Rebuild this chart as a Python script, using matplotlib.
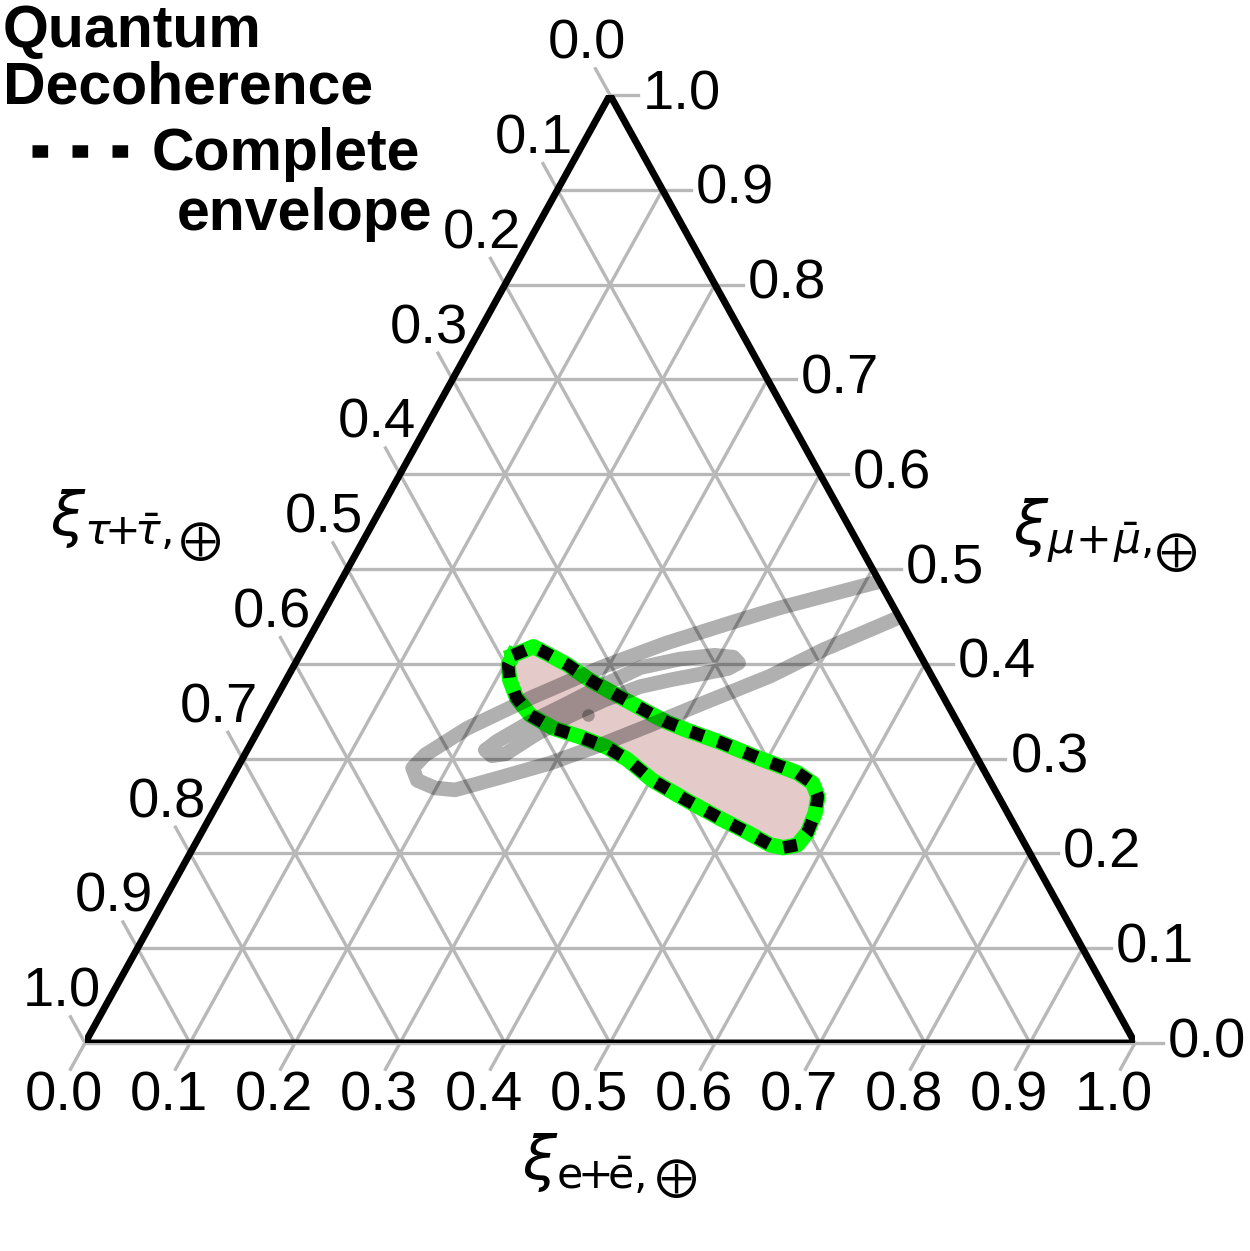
"""Ternary flavour-composition plot with the quantum decoherence envelope."""

import matplotlib

matplotlib.use("Agg")
import matplotlib.pyplot as plt
import numpy as np
from matplotlib.lines import Line2D
from matplotlib.patches import Polygon

plt.rcParams["font.family"] = ["Liberation Sans", "DejaVu Sans"]
plt.rcParams["mathtext.fontset"] = "dejavusans"

# complete envelope (fraction of e and mu; tau = 1 - e - mu)
envelope_e = [0.203, 0.218, 0.234, 0.260, 0.289, 0.327, 0.368, 0.386, 0.408,
              0.447, 0.490, 0.536, 0.556, 0.568, 0.574, 0.577, 0.574, 0.562,
              0.548, 0.520, 0.486, 0.445, 0.402, 0.367, 0.341, 0.310, 0.280,
              0.251, 0.229, 0.213, 0.2035, 0.203]
envelope_mu = [0.409, 0.418, 0.411, 0.399, 0.383, 0.365, 0.346, 0.338, 0.330,
               0.317, 0.301, 0.285, 0.274, 0.260, 0.243, 0.222, 0.209, 0.206,
               0.209, 0.222, 0.237, 0.256, 0.277, 0.299, 0.312, 0.323, 0.332,
               0.346, 0.364, 0.383, 0.399, 0.409]

best_fit_e = [0.306]
best_fit_mu = [0.346]

# gray reference contours
outer_loop_e = [0.551, 0.508, 0.432, 0.395, 0.343, 0.293, 0.244, 0.198, 0.172,
                0.167, 0.178, 0.199, 0.219, 0.255, 0.295, 0.333, 0.370, 0.407,
                0.459, 0.496, 0.546, 0.573]
outer_loop_mu = [0.498, 0.485, 0.459, 0.444, 0.422, 0.396, 0.365, 0.332, 0.304,
                 0.290, 0.277, 0.269, 0.267, 0.280, 0.295, 0.314, 0.335, 0.357,
                 0.387, 0.415, 0.446, 0.463]

inner_loop_e = [0.227, 0.233, 0.255, 0.279, 0.303, 0.331, 0.364, 0.395, 0.414,
                0.422, 0.415, 0.395, 0.366, 0.341, 0.314, 0.289, 0.266, 0.248,
                0.236, 0.227]
inner_loop_mu = [0.309, 0.318, 0.339, 0.357, 0.376, 0.396, 0.405, 0.409, 0.407,
                 0.401, 0.395, 0.390, 0.383, 0.376, 0.362, 0.345, 0.325, 0.305,
                 0.303, 0.309]

tick_values = [0.0, 0.1, 0.2, 0.3, 0.4, 0.5, 0.6, 0.7, 0.8, 0.9, 1.0]
tick_labels = ["0.0", "0.1", "0.2", "0.3", "0.4", "0.5",
               "0.6", "0.7", "0.8", "0.9", "1.0"]

# axis titles: the Earth symbol is drawn as its own piece so it can be sized
title_e = r"$\xi_{\mathrm{e}\!\!+\!\!\bar{\mathrm{e}},}$"
title_mu = r"$\xi_{\mu\!+\!\bar{\mu},}$"
title_tau = r"$\xi_{\tau\!\!+\!\!\bar{\tau},}$"
earth = r"$\bigoplus$"

legend_title = ["Quantum", "Decoherence"]
legend_label = ["Complete", "envelope"]

W, H = 1250, 1251
PX, PY = 1 / 1050, 1 / 948  # one pixel in axes units
GRID = "#b8b8b8"


def to_xy(e, mu):
    """Ternary (e, mu) to cartesian coordinates of the triangle."""
    e = np.asarray(e, dtype=float)
    mu = np.asarray(mu, dtype=float)
    return e + mu / 2, mu


def draw_grid(ax):
    tick_kw = dict(textcoords="offset pixels", fontsize=40.5, annotation_clip=False)
    dx, dy = -14.5 * PX, 26.2 * PY
    for v, lab in zip(tick_values, tick_labels):
        # constant e: parallel to the left edge, tick below
        x0, y0 = v + dx, -dy
        ax.plot([x0, v + (1 - v) / 2], [y0, 1 - v], color=GRID, lw=2.4,
                clip_on=False, zorder=1)
        ax.annotate(lab, (x0, y0), xytext=(-7, -27), ha="center", va="center",
                    **tick_kw)
        # constant mu: horizontal, tick on the right
        x1 = 1 - v / 2 + 28 * PX
        ax.plot([v / 2, x1], [v, v], color=GRID, lw=2.4, clip_on=False, zorder=1)
        ax.annotate(lab, (x1, v), xytext=(5, 0), ha="left", va="center",
                    **tick_kw)
        # constant tau: parallel to the right edge, tick up-left
        lx, ly = (1 - v) / 2, 1 - v
        ax.plot([lx + dx, 1 - v], [ly + dy, 0], color=GRID, lw=2.4,
                clip_on=False, zorder=1)
        ax.annotate(lab, (lx + dx, ly + dy), xytext=(-9, 24), ha="center",
                    va="center", **tick_kw)


def axis_title(fig, text, x, y, earth_x, earth_y):
    fig.text(x / W, 1 - y / H, text, fontsize=44, ha="left", va="center")
    fig.text(earth_x / W, 1 - earth_y / H, earth, fontsize=21,
             ha="center", va="center")


def main():
    fig = plt.figure(figsize=(W / 100, H / 100), dpi=100)
    ax = fig.add_axes([85 / W, (H - 1043) / H, 1050 / W, 948 / H])
    ax.set_xlim(0, 1)
    ax.set_ylim(0, 1)
    ax.axis("off")

    draw_grid(ax)

    tri = Polygon([(0, 0), (1, 0), (0.5, 1)], closed=True, fill=False,
                  ec="black", lw=5, joinstyle="miter", zorder=6)
    ax.add_patch(tri)

    ex, ey = to_xy(envelope_e, envelope_mu)
    ax.fill(ex, ey, color="#e5caca", lw=0, zorder=2)
    ax.plot(ex, ey, color="#00ff00", lw=11, solid_joinstyle="round", zorder=3)
    ax.plot(ex, ey, color="black", lw=9, dashes=(1.1, 1.2),
            dash_capstyle="butt", zorder=3.1)

    clip = Polygon([(0, 0), (1, 0), (0.5, 1)], closed=True,
                   transform=ax.transData)
    for le, lm in [(outer_loop_e, outer_loop_mu), (inner_loop_e, inner_loop_mu)]:
        lx, ly = to_xy(le, lm)
        line, = ax.plot(lx, ly, color="black", alpha=0.31, lw=10.5,
                        solid_joinstyle="round", solid_capstyle="round", zorder=4)
        line.set_clip_path(clip)

    bx, by = to_xy(best_fit_e, best_fit_mu)
    ax.plot(bx, by, "o", color="black", alpha=0.3, ms=9, mew=0, zorder=4)

    axis_title(fig, title_e, 522, 1163, 676, 1178)
    axis_title(fig, title_mu, 1013, 531, 1176, 553)
    axis_title(fig, title_tau, 50, 520, 200, 541)

    # legend
    bold = dict(fontsize=42.5, fontweight="bold", va="baseline", ha="left")
    fig.text(3 / W, 1 - 47 / H, legend_title[0], **bold)
    fig.text(3 / W, 1 - 103 / H, legend_title[1], **bold)
    fig.text(152 / W, 1 - 170 / H, legend_label[0], **bold)
    fig.text(177 / W, 1 - 230 / H, legend_label[1], **bold)
    fig.add_artist(Line2D([32 / W, 130 / W], [1 - 151 / H, 1 - 151 / H],
                          color="black", lw=9, dashes=(1.25, 1.95),
                          dash_capstyle="butt", transform=fig.transFigure))

    fig.savefig("out.png", dpi=100)


if __name__ == "__main__":
    main()
